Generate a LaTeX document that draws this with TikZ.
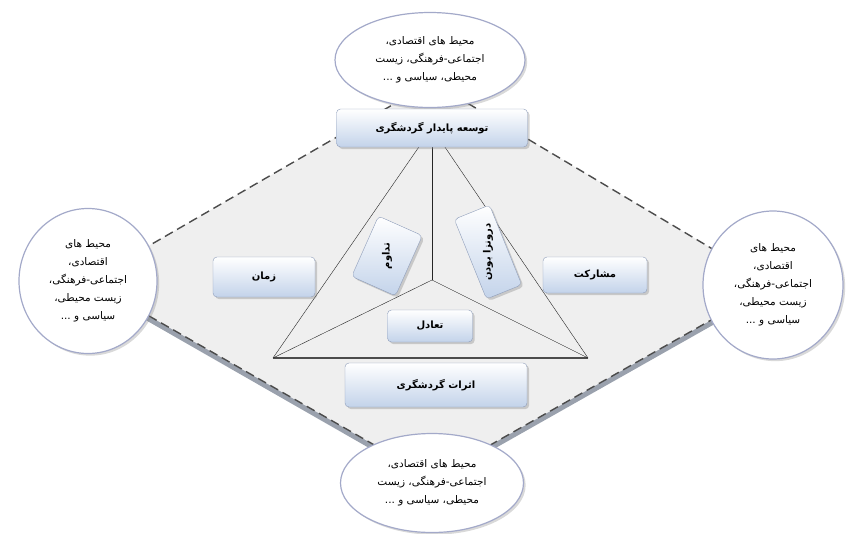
\documentclass[tikz,border=0pt]{standalone}
\usepackage{fontspec}
\usepackage{graphicx}
\newfontfamily\farsi[Script=Arabic]{DejaVu Sans}
\TeXXeTstate=1
\usetikzlibrary{shapes.geometric,shadows}
\newcommand{\fa}[1]{{\farsi\beginR #1\endR}}
\definecolor{boxline}{HTML}{8E9DBA}
\definecolor{boxblue}{HTML}{C3D3EA}
\definecolor{ringline}{HTML}{A3A9C9}
\definecolor{areafill}{HTML}{EFEFEF}
\definecolor{areashade}{HTML}{9AA1AD}
\tikzset{
	factorbox/.style={rectangle, rounded corners=4pt, draw=boxline, top color=white, bottom color=boxblue, drop shadow={opacity=0.35}, font=\farsi\bfseries\fontsize{10}{12}\selectfont, inner sep=2pt},
	ring/.style={ellipse, draw=ringline, line width=1.2pt, fill=white, drop shadow={opacity=0.3}, align=center, font=\farsi\fontsize{10.5}{18}\selectfont, inner sep=0pt}
}

\begin{document}
\begin{tikzpicture}[x=1pt,y=-1pt]
			\useasboundingbox (0,0) rectangle (846,533);
			%%%%% START %%%%%
			\coordinate (top) at (432,82);
			\coordinate (left) at (88,281);
			\coordinate (bottom) at (432,478);
			\coordinate (right) at (773,285);
			
			\fill[areashade] ([yshift=-6pt]top) -- ([yshift=-6pt]right) -- ([yshift=-6pt]bottom) -- ([yshift=-6pt]left) -- cycle;
			\draw[fill=areafill, draw=black!70, line width=1.4pt, dash pattern=on 9pt off 5pt] (top) -- (right) -- (bottom) -- (left) -- cycle;
			
			\coordinate (apex) at (432,128);
			\coordinate (tl) at (273,358);
			\coordinate (tr) at (588,358);
			\coordinate (mid) at (432,280);
			\draw[black!85] (apex) -- (tl);
			\draw[black!85] (apex) -- (tr);
			\draw[black!70, line width=1.1pt] (tl) -- (tr);
			\draw[black!85] (mid) -- (apex);
			\draw[black!85] (mid) -- (tl);
			\draw[black!85] (mid) -- (tr);
			
			\node[ring, minimum width=190, minimum height=95] (envtop) at (430,60) {\fa{محیط های اقتصادی،}\\\fa{اجتماعی-فرهنگی، زیست}\\\fa{محیطی، سیاسی و ...}};
			\node[ring, minimum width=138, minimum height=145] (envleft) at (88,281) {\fa{محیط های}\\\fa{اقتصادی،}\\\fa{اجتماعی-فرهنگی،}\\\fa{زیست محیطی،}\\\fa{سیاسی و ...}};
			\node[ring, minimum width=140, minimum height=148] (envright) at (773,285) {\fa{محیط های}\\\fa{اقتصادی،}\\\fa{اجتماعی-فرهنگی،}\\\fa{زیست محیطی،}\\\fa{سیاسی و ...}};
			\node[ring, minimum width=183, minimum height=99] (envbottom) at (432,483) {\fa{محیط های اقتصادی،}\\\fa{اجتماعی-فرهنگی، زیست}\\\fa{محیطی، سیاسی و ...}};
			
			\node[factorbox, minimum width=191, minimum height=38] (goal) at (432,128) {\fa{توسعه پایدار گردشگری}};
			\node[factorbox, minimum width=102, minimum height=40] (time) at (264,277) {\fa{زمان}};
			\node[factorbox, minimum width=104, minimum height=36] (share) at (595,275) {\fa{مشارکت}};
			\node[factorbox, minimum width=85, minimum height=32] (balance) at (430,326) {\fa{تعادل}};
			\node[factorbox, minimum width=182, minimum height=44] (impact) at (436,385) {\fa{اثرات گردشگری}};
			\node[factorbox, minimum width=66, minimum height=48, rotate=66] (endure) at (387,256) {\rotatebox{24}{\fa{تداوم}}};
			\node[factorbox, minimum width=86, minimum height=38, rotate=112] (inner) at (488,252) {\rotatebox{-22}{\fa{درونزا بودن}}};
			%%%%% END %%%%%
\end{tikzpicture}
\end{document}
